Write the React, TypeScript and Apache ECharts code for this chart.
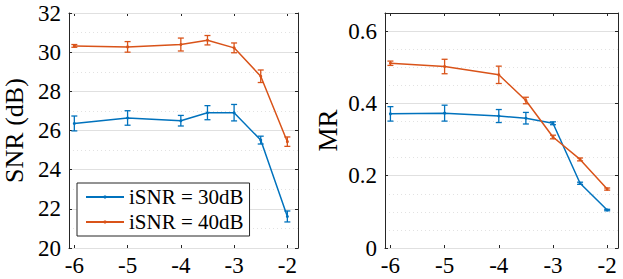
import React, { useEffect, useRef } from "react";
import * as echarts from "echarts";

const xs = [-6, -5, -4, -3.5, -3, -2.5, -2];
const xTicks = [-6, -5, -4, -3, -2];

const snr30 = [26.36, 26.64, 26.5, 26.91, 26.91, 25.51, 21.61];
const snr30Err = [0.38, 0.37, 0.27, 0.36, 0.42, 0.2, 0.28];
const snr40 = [30.32, 30.27, 30.39, 30.61, 30.22, 28.77, 25.43];
const snr40Err = [0.07, 0.27, 0.33, 0.24, 0.25, 0.32, 0.24];

const mr30 = [0.371, 0.373, 0.365, 0.359, 0.345, 0.179, 0.105];
const mr30Err = [0.02, 0.022, 0.018, 0.016, 0.004, 0.003, 0.002];
const mr40 = [0.511, 0.502, 0.479, 0.408, 0.307, 0.245, 0.163];
const mr40Err = [0.006, 0.02, 0.024, 0.009, 0.005, 0.004, 0.003];

const snrTicks = [20, 22, 24, 26, 28, 30, 32];
const mrTicks = [0, 0.2, 0.4, 0.6];

const names = ["iSNR = 30dB", "iSNR = 40dB"];
const BLUE = "#0072BD";
const ORANGE = "#D95319";
const AX = "#262626";
const FONT = "Liberation Serif";

function errData(vals: number[], errs: number[]) {
  return xs.map((x, i) => [x, vals[i] - errs[i], vals[i] + errs[i]]);
}

function errSeries(vals: number[], errs: number[], color: string, xi: number, yi: number) {
  return {
    type: "custom",
    xAxisIndex: xi,
    yAxisIndex: yi,
    encode: { x: 0, y: [1, 2] },
    data: errData(vals, errs),
    z: 3,
    renderItem: (params: any, api: any) => {
      const x = api.value(0);
      const lo = api.coord([x, api.value(1)]);
      const hi = api.coord([x, api.value(2)]);
      const w = 3;
      const style = { stroke: color, lineWidth: 1.3 };
      return {
        type: "group",
        children: [
          { type: "line", shape: { x1: lo[0], y1: lo[1], x2: hi[0], y2: hi[1] }, style },
          { type: "line", shape: { x1: lo[0] - w, y1: lo[1], x2: lo[0] + w, y2: lo[1] }, style },
          { type: "line", shape: { x1: hi[0] - w, y1: hi[1], x2: hi[0] + w, y2: hi[1] }, style },
        ],
      };
    },
  };
}

function lineSeries(name: string, vals: number[], color: string, xi: number, yi: number) {
  return {
    type: "line",
    name,
    xAxisIndex: xi,
    yAxisIndex: yi,
    data: xs.map((x, i) => [x, vals[i]]),
    symbol: "circle",
    symbolSize: 3,
    showSymbol: true,
    color,
    lineStyle: { color, width: 1.5 },
    itemStyle: { color },
    z: 4,
  };
}

const labelStyle = { color: "#000", fontFamily: FONT, fontSize: 23 };

function xAxes(grid: number) {
  const base = {
    type: "value",
    gridIndex: grid,
    min: -6.1,
    max: -1.8,
    splitLine: { show: false },
    axisLine: { show: true, onZero: false, lineStyle: { color: AX, width: 1 } },
  };
  return [
    {
      ...base,
      position: "bottom",
      axisTick: { show: true, inside: true, length: 3, customValues: xTicks, lineStyle: { color: AX } },
      axisLabel: {
        show: true,
        customValues: xTicks,
        margin: 6,
        ...labelStyle,
        formatter: (v: number) => String(v),
      },
    },
    {
      ...base,
      position: "top",
      axisTick: { show: true, inside: true, length: 3, customValues: xTicks, lineStyle: { color: AX } },
      axisLabel: { show: false },
    },
  ];
}

function yAxes(grid: number, min: number, max: number, interval: number, minorInterval: number, ticks: number[], name: string, nameGap: number, nameSize: number) {
  const line = { show: true, onZero: false, lineStyle: { color: AX, width: 1 } };
  return [
    {
      type: "value",
      gridIndex: grid,
      min,
      max,
      interval: minorInterval,
      position: "left",
      axisLine: { show: false },
      axisTick: { show: false },
      axisLabel: { show: false },
      splitLine: { show: true, lineStyle: { color: "#e2e2e2", type: [1, 3], width: 1 } },
      z: 0,
    },
    {
      type: "value",
      gridIndex: grid,
      min,
      max,
      interval,
      position: "left",
      name,
      nameLocation: "middle",
      nameGap,
      nameRotate: 90,
      nameTextStyle: { fontFamily: FONT, fontSize: nameSize, color: "#000" },
      axisLine: line,
      axisTick: { show: true, inside: true, length: 3, customValues: ticks, lineStyle: { color: AX } },
      axisLabel: {
        show: true,
        customValues: ticks,
        margin: 8,
        ...labelStyle,
        formatter: (v: number) => String(Math.round(v * 100) / 100),
      },
      splitLine: { show: true, lineStyle: { color: "#e0e0e0", width: 1 } },
      z: 1,
    },
    {
      type: "value",
      gridIndex: grid,
      min,
      max,
      interval,
      position: "right",
      axisLine: line,
      axisTick: { show: true, inside: true, length: 3, customValues: ticks, lineStyle: { color: AX } },
      axisLabel: { show: false },
      splitLine: { show: false },
      z: 1,
    },
  ];
}

export default function App() {
  const ref = useRef<HTMLDivElement>(null);
  useEffect(() => {
    if (!ref.current) return;
    const chart = echarts.init(ref.current, null, { renderer: "svg" });
    const option: any = {
      animation: false,
      backgroundColor: "#fff",
      textStyle: { fontFamily: FONT, color: "#000" },
      grid: [
        { left: 65, top: 13, width: 233, height: 235 },
        { left: 385, top: 13, width: 233, height: 235 },
      ],
      xAxis: [...xAxes(0), ...xAxes(1)],
      yAxis: [
        ...yAxes(0, 20, 32, 2, 1, snrTicks, "SNR (dB)", 42, 26),
        ...yAxes(1, 0, 0.65, 0.2, 0.05, mrTicks, "MR", 44, 27),
      ],
      legend: {
        show: true,
        orient: "vertical",
        left: 77,
        top: 183,
        data: names,
        padding: [3, 6, 3, 8],
        itemWidth: 38,
        itemHeight: 4,
        itemGap: 3,
        backgroundColor: "#fff",
        borderColor: AX,
        borderWidth: 1,
        borderRadius: 0,
        textStyle: { fontFamily: FONT, fontSize: 21, lineHeight: 22, color: "#000" },
      },
      series: [
        lineSeries(names[0], snr30, BLUE, 0, 1),
        errSeries(snr30, snr30Err, BLUE, 0, 1),
        lineSeries(names[1], snr40, ORANGE, 0, 1),
        errSeries(snr40, snr40Err, ORANGE, 0, 1),
        lineSeries(names[0], mr30, BLUE, 2, 4),
        errSeries(mr30, mr30Err, BLUE, 2, 4),
        lineSeries(names[1], mr40, ORANGE, 2, 4),
        errSeries(mr40, mr40Err, ORANGE, 2, 4),
      ],
    };
    chart.setOption(option);
    return () => chart.dispose();
  }, []);
  return (
    <div
      ref={ref}
      style={{ position: "absolute", left: 0, top: 0, width: 623, height: 279 }}
    />
  );
}
